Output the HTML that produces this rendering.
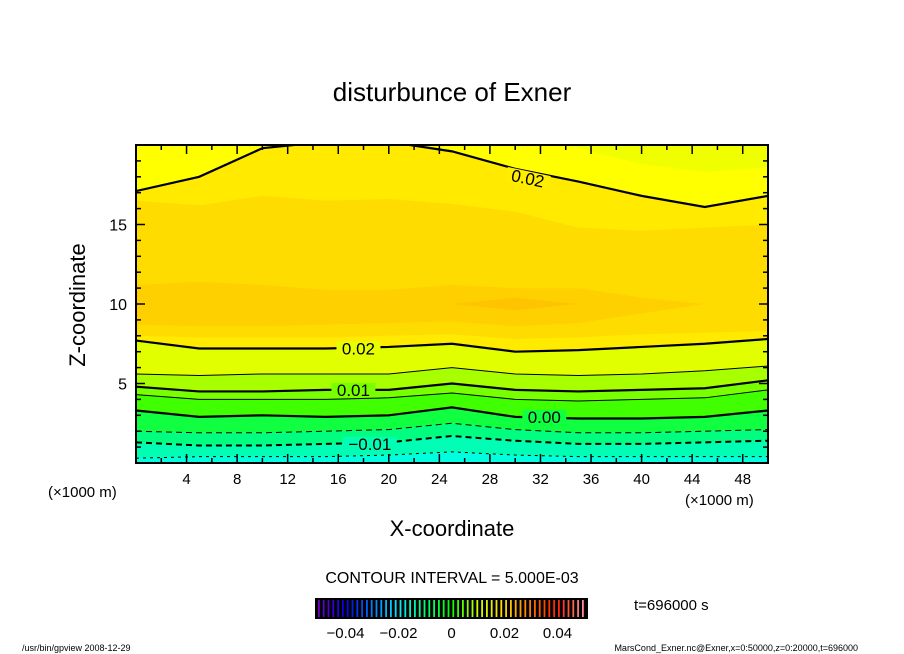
<!DOCTYPE html>
<html><head><meta charset="utf-8"><style>
html,body{margin:0;padding:0;background:#fff;}
svg{display:block;font-family:"Liberation Sans",sans-serif;}
</style></head><body>
<svg id="chart" width="904" height="654" viewBox="0 0 904 654">
<text x="452" y="101" text-anchor="middle" font-size="26">disturbunce of Exner</text>
<defs><clipPath id="pc"><rect x="136" y="145" width="632" height="318"/></clipPath></defs>
<g id="fills" clip-path="url(#pc)"></g>
<g id="lines" clip-path="url(#pc)"></g>
<g id="labels"></g>
<rect x="136" y="145" width="632" height="318" fill="none" stroke="#000" stroke-width="2"/>
<g id="ticks"></g>
<text x="85" y="305" transform="rotate(-90 85 305)" text-anchor="middle" font-size="22">Z-coordinate</text>
<text x="452" y="536" text-anchor="middle" font-size="22">X-coordinate</text>
<text x="48" y="497" font-size="15">(×1000 m)</text>
<text x="685" y="505" font-size="15">(×1000 m)</text>
<text x="452" y="583" text-anchor="middle" font-size="16">CONTOUR INTERVAL = 5.000E-03</text>
<g id="cbar"></g>
<text x="634" y="610" font-size="15">t=696000 s</text>
<text x="22" y="651" font-size="9">/usr/bin/gpview   2008-12-29</text>
<text x="858" y="651" text-anchor="end" font-size="9">MarsCond_Exner.nc@Exner,x=0:50000,z=0:20000,t=696000</text>
</svg>
<script>
const xs=[0,5,10,15,20,25,30,35,40,45,50];
const lm15=[0.3,0.4,0.4,0.4,0.5,0.7,0.5,0.4,0.4,0.4,0.4];
const lm10=[1.3,1.1,1.1,1.2,1.3,1.7,1.4,1.2,1.2,1.3,1.4];
const lm05=[2.0,1.9,1.9,2.0,2.1,2.5,2.1,1.9,1.9,2.0,2.1];
const l00=[3.3,2.9,3.0,2.9,3.0,3.5,2.9,2.8,2.8,2.9,3.3];
const l05=[4.3,4.0,4.0,4.0,4.1,4.4,4.0,3.9,4.0,4.1,4.6];
const l10=[4.8,4.5,4.5,4.6,4.6,5.0,4.6,4.5,4.6,4.7,5.2];
const l15=[5.6,5.5,5.6,5.6,5.6,6.0,5.6,5.5,5.6,5.8,6.1];
const l20=[7.7,7.2,7.2,7.2,7.3,7.5,7.0,7.1,7.3,7.5,7.8];
const l20top=[17.1,18.0,19.8,20.2,20.2,19.6,18.5,17.7,16.8,16.1,16.8];
const paleLow=[21,21,21,21,21,21,21,19.8,18.8,18.3,18.6];
const midLow=[8.0,7.9,7.9,7.9,8.0,8.1,7.8,7.9,8.1,8.2,8.3];
const midHigh=[16.5,16.2,16.8,16.5,16.6,16.3,15.8,14.8,14.6,14.8,15.0];
const coreLow=[8.7,8.6,8.6,8.7,8.8,8.9,8.6,8.8,9.4,10.0,10.0];
const coreHigh=[11.2,11.4,11.2,10.9,10.9,11.2,11.0,11.0,10.4,10.0,10.0];
const spotLow=[10,10,10,10,10,10,9.6,10,10,10,10];
const spotHigh=[10,10,10,10,10,10,10.4,10,10,10,10];
const xTicks=[4,8,12,16,20,24,28,32,36,40,44,48];
const yTicks=[5,10,15];
const cbTicks=[-0.04,-0.02,0,0.02,0.04];
const cbLabels=["−0.04","−0.02","0","0.02","0.04"];
const X=v=>136+v*632/50, Z=v=>463-v*318/20;
const NS="http://www.w3.org/2000/svg";
function mk(t,a,p){const e=document.createElementNS(NS,t);for(const k in a)e.setAttribute(k,a[k]);p.appendChild(e);return e;}
function pts(arr){return xs.map((x,i)=>X(x)+","+Z(arr[i])).join(" ");}
function band(lo,hi,col,name){const p=xs.map((x,i)=>X(x)+","+Z(hi[i])).concat(xs.slice().reverse().map((x,j)=>X(x)+","+Z(lo[xs.length-1-j])));const e=mk("polygon",{points:p.join(" "),fill:col},document.getElementById("fills"));}
const bottomEdge=xs.map(()=>-1), topEdge=xs.map(()=>21);
band(bottomEdge,topEdge,"#ffff00","band-top");
band(paleLow,topEdge,"#f0ff00","band-top-pale");
band(bottomEdge,lm15,"#00ffe0","band-1");
band(lm15,lm10,"#00ffb4","band-2");
band(lm10,lm05,"#00ff80","band-3");
band(lm05,l00,"#10ff40","band-4");
band(l00,l05,"#40ff00","band-5");
band(l05,l10,"#78ff00","band-6");
band(l10,l15,"#a8ff00","band-7");
band(l15,l20,"#e2ff00","band-8");
band(l20,l20top,"#ffea00","band-9");
band(midLow,midHigh,"#ffdc00","band-10");
band(coreLow,coreHigh,"#ffd000","band-11");
band(spotLow,spotHigh,"#ffc400","band-12");
const LG=document.getElementById("lines");
[[lm15,1,"3,4"],[lm10,2,"6,4"],[lm05,1,"6,4"],[l00,2.2,"none"],[l05,1,"none"],[l10,2.2,"none"],[l15,1,"none"],[l20,2.2,"none"],[l20top,2.2,"none"]].forEach(d=>{
 const e=mk("polyline",{points:pts(d[0]),fill:"none",stroke:"#000","stroke-width":d[1],"stroke-dasharray":d[2]},LG);
 
 
});
const LB=document.getElementById("labels");
[["0.02",17.6,7.2,0,"#e8ff00"],["0.01",17.2,4.6,0,"#78ff00"],["0.00",32.3,2.9,0,"#10ff40"],["−0.01",18.5,1.2,0,"#00ffb4"],["0.02",31,17.9,12,"#ffee00"]].forEach(l=>{
 const x=X(l[1]),y=Z(l[2]);
 const w=l[0].length*10;
 mk("rect",{x:x-w/2-2,y:y-7,width:w+4,height:14,fill:l[4],transform:"rotate("+l[3]+" "+x+" "+y+")"},LB);
 const t=mk("text",{x:x,y:y+6,"text-anchor":"middle","font-size":17,transform:"rotate("+l[3]+" "+x+" "+y+")"},LB);
 
 
 t.textContent=l[0];
});
const TK=document.getElementById("ticks");
for(let v=0;v<=50;v+=2){const big=v%4===0;mk("line",{x1:X(v),x2:X(v),y1:463,y2:463-(big?9:5),stroke:"#000","stroke-width":1.5},TK);mk("line",{x1:X(v),x2:X(v),y1:145,y2:145+(big?9:5),stroke:"#000","stroke-width":1.5},TK);}
for(let v=0;v<=20;v+=1){const big=v%5===0;mk("line",{x1:136,x2:136+(big?9:5),y1:Z(v),y2:Z(v),stroke:"#000","stroke-width":1.5},TK);mk("line",{x1:768,x2:768-(big?9:5),y1:Z(v),y2:Z(v),stroke:"#000","stroke-width":1.5},TK);}
xTicks.forEach(v=>{const t=mk("text",{x:X(v),y:484,"text-anchor":"middle","font-size":15},TK);t.textContent=v;});
yTicks.forEach(v=>{const t=mk("text",{x:127,y:Z(v)+6,"text-anchor":"end","font-size":16},TK);t.textContent=v;});
const CB=document.getElementById("cbar");
mk("rect",{x:315,y:598,width:273,height:21,fill:"#000"},CB);
const cmap=[[120,0,200],[0,0,230],[0,120,255],[0,230,255],[0,255,120],[0,255,0],[200,255,0],[255,220,0],[255,120,0],[255,30,0],[255,140,140]];
const N=56;
for(let i=0;i<N;i++){const f=i/(N-1)*(cmap.length-1),k=Math.min(Math.floor(f),cmap.length-2),r=f-k;const c=cmap[k].map((v,j)=>Math.round(v+(cmap[k+1][j]-v)*r));mk("rect",{x:318+i*4.8,y:600,width:1.8,height:17,fill:"rgb("+c+")"},CB);}
const CX=v=>451.5+v*2650;
cbTicks.forEach((v,i)=>{const t=mk("text",{x:CX(v),y:638,"text-anchor":"middle","font-size":15},CB);t.textContent=cbLabels[i];});
</script>
</body></html>
